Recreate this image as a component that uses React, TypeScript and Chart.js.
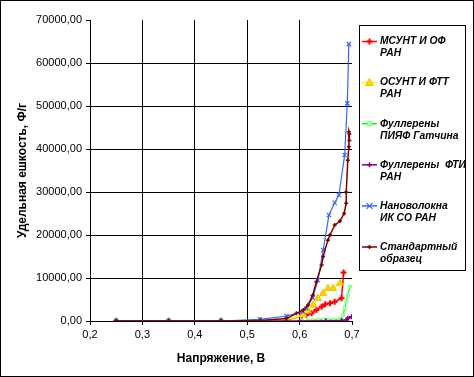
import React, { useEffect, useRef } from 'react';
import { Chart, registerables } from 'chart.js';

Chart.register(...registerables);

// ---- data ----
const seriesNames = [
  'МСУНТ И ОФ\nРАН',
  'ОСУНТ И ФТТ\nРАН',
  'Фуллерены\nПИЯФ Гатчина',
  'Фуллерены  ФТИ\nРАН',
  'Нановолокна\nИК СО РАН',
  'Стандартный\nобразец',
];

const xMsunt = [0.25, 0.35, 0.45, 0.525, 0.575, 0.604, 0.613, 0.623, 0.632, 0.642, 0.649, 0.658, 0.667, 0.68, 0.684];
const yMsunt = [0, 0, 0, 0, 200, 1230, 1400, 1790, 2560, 3330, 3880, 4120, 4490, 5280, 11300];

const xOsunt = [0.25, 0.35, 0.45, 0.525, 0.575, 0.607, 0.616, 0.626, 0.635, 0.645, 0.654, 0.664, 0.677];
const yOsunt = [0, 0, 0, 0, 300, 1400, 2330, 3720, 5280, 6440, 7600, 7600, 8770];

const xPiyaf = [0.605, 0.615, 0.625, 0.635, 0.645, 0.655, 0.665, 0.675, 0.68, 0.683, 0.686, 0.689, 0.692, 0.696];
const yPiyaf = [100, 150, 200, 250, 300, 300, 350, 400, 600, 1400, 3000, 4500, 6000, 8000];

const xFti = [0.25, 0.35, 0.45, 0.525, 0.575, 0.6, 0.65, 0.68, 0.69, 0.692, 0.699];
const yFti = [0, 0, 0, 0, 0, 0, 50, 100, 300, 630, 1000];

const xNano = [0.25, 0.35, 0.45, 0.524, 0.575, 0.606, 0.613, 0.625, 0.635, 0.645, 0.656, 0.667, 0.675, 0.686, 0.691, 0.694];
const yNano = [0, 0, 0, 400, 1160, 2160, 2950, 5420, 9530, 16500, 24650, 27500, 29300, 38600, 50600, 64400];

const xStd = [0.25, 0.35, 0.45, 0.525, 0.575, 0.594, 0.607, 0.616, 0.625, 0.632, 0.642, 0.645, 0.654, 0.658, 0.667, 0.677, 0.685, 0.689, 0.689, 0.692, 0.694, 0.694, 0.695, 0.695];
const yStd = [0, 0, 0, 100, 600, 1790, 2560, 3720, 6000, 9140, 13000, 15000, 18800, 20000, 22300, 23250, 25000, 27400, 30000, 37400, 40500, 44000, 43500, 42000];

const seriesX = [xMsunt, xOsunt, xPiyaf, xFti, xNano, xStd];
const seriesY = [yMsunt, yOsunt, yPiyaf, yFti, yNano, yStd];

const xMin = 0.2;
const xMax = 0.7;
const xStep = 0.1;
const yMin = 0;
const yMax = 70000;
const yStep = 10000;

const xTitle = 'Напряжение, В';
const yTitle = 'Удельная ешкость, Ф/г';

// ---- styles ----
type Style = { line: string; fill: string; stroke: string; marker: string; r: number; w: number; lw: number };
const styles: Style[] = [
  { line: '#FF0000', fill: '#FF0000', stroke: '#FF0000', marker: 'cross', r: 3, w: 2, lw: 1.5 },
  { line: '#FFFF00', fill: '#FFD700', stroke: '#F0C000', marker: 'triangle', r: 4, w: 1, lw: 1.5 },
  { line: '#00FF00', fill: '#B0FFB0', stroke: '#80FF80', marker: 'rect', r: 2, w: 1, lw: 1.2 },
  { line: '#800080', fill: '#800080', stroke: '#800080', marker: 'cross', r: 2.5, w: 1.5, lw: 1.5 },
  { line: '#3366FF', fill: '#3366FF', stroke: '#3366FF', marker: 'crossRot', r: 3, w: 1.2, lw: 1.2 },
  { line: '#800000', fill: '#800000', stroke: '#800000', marker: 'cross', r: 2, w: 1.5, lw: 1.5 },
];

const FONT = '"Liberation Sans", Arial, sans-serif';

function fmtComma(v: number, d: number) {
  return v.toFixed(d).replace('.', ',');
}

function drawMarker(ctx: CanvasRenderingContext2D, s: Style, x: number, y: number) {
  ctx.save();
  ctx.strokeStyle = s.stroke;
  ctx.fillStyle = s.fill;
  ctx.lineWidth = s.w;
  const r = s.r;
  ctx.beginPath();
  if (s.marker === 'cross') {
    ctx.moveTo(x - r, y); ctx.lineTo(x + r, y);
    ctx.moveTo(x, y - r); ctx.lineTo(x, y + r);
    ctx.stroke();
  } else if (s.marker === 'crossRot') {
    ctx.moveTo(x - r, y - r); ctx.lineTo(x + r, y + r);
    ctx.moveTo(x + r, y - r); ctx.lineTo(x - r, y + r);
    ctx.stroke();
  } else if (s.marker === 'triangle') {
    ctx.moveTo(x, y - r); ctx.lineTo(x + r, y + r * 0.7); ctx.lineTo(x - r, y + r * 0.7); ctx.closePath();
    ctx.fill(); ctx.stroke();
  } else {
    ctx.rect(x - r, y - r, 2 * r, 2 * r);
    ctx.fill(); ctx.stroke();
  }
  ctx.restore();
}

const framePlugin = {
  id: 'frameLegend',
  afterDraw(chart: any) {
    const ctx: CanvasRenderingContext2D = chart.ctx;
    ctx.save();
    ctx.strokeStyle = '#000';
    ctx.lineWidth = 1;
    ctx.strokeRect(0.5, 0.5, chart.width - 1, chart.height - 1);
    // legend box
    const bx = 359, by = 25, bw = 106, bh = 245;
    ctx.strokeRect(bx + 0.5, by + 0.5, bw, bh);
    ctx.font = 'italic bold 10.3px ' + FONT;
    ctx.fillStyle = '#000';
    ctx.textBaseline = 'middle';
    ctx.textAlign = 'left';
    seriesNames.forEach((name, i) => {
      const s = styles[i];
      const y = 41.5 + i * 41.1;
      ctx.strokeStyle = s.line;
      ctx.lineWidth = 1.5;
      ctx.beginPath();
      ctx.moveTo(362, y);
      ctx.lineTo(377, y);
      ctx.stroke();
      drawMarker(ctx, s, 369.5, y);
      ctx.fillStyle = '#000';
      name.split('\n').forEach((ln, j) => {
        ctx.fillText(ln, 380, y + j * 12);
      });
    });
    ctx.restore();
  },
};

export default function App() {
  const ref = useRef<HTMLCanvasElement>(null);
  useEffect(() => {
    document.body.style.margin = '0';
    const datasets = seriesNames.map((name, i) => {
      const s = styles[i];
      return {
        label: name.replace('\n', ' '),
        data: seriesX[i].map((x, k) => ({ x, y: seriesY[i][k] })),
        showLine: true,
        borderColor: s.line,
        backgroundColor: s.fill,
        borderWidth: s.lw,
        pointStyle: s.marker,
        pointRadius: s.r,
        pointBorderWidth: s.w,
        pointBorderColor: s.stroke,
        pointBackgroundColor: s.fill,
        tension: 0,
        order: seriesNames.length - i,
      };
    });
    const chart = new Chart(ref.current as HTMLCanvasElement, {
      type: 'scatter',
      data: { datasets: datasets as any },
      options: {
        responsive: false,
        animation: false,
        devicePixelRatio: 1,
        layout: { padding: { top: 20, right: 122, left: 0, bottom: 0 } },
        plugins: { legend: { display: false }, tooltip: { enabled: false } },
        scales: {
          x: {
            type: 'linear',
            min: xMin,
            max: xMax,
            ticks: {
              stepSize: xStep,
              color: '#000',
              padding: 3,
              font: { family: FONT, size: 11 },
              callback: (v: any) => fmtComma(Number(v), 1),
            },
            grid: {
              color: (c: any) => (c.tick && Math.abs(c.tick.value - xMax) < 1e-6 ? 'rgba(0,0,0,0)' : '#000'),
              tickColor: '#000',
              tickLength: 4,
              lineWidth: 1,
            },
            border: { color: '#000', width: 1 },
            title: {
              display: true,
              text: xTitle,
              color: '#000',
              font: { family: FONT, size: 12, weight: 'bold' },
              padding: { top: 0, bottom: 11 },
            },
            afterFit: (s: any) => { s.height = 56; },
          },
          y: {
            type: 'linear',
            min: yMin,
            max: yMax,
            ticks: {
              stepSize: yStep,
              color: '#000',
              padding: 4,
              font: { family: FONT, size: 11 },
              callback: (v: any) => fmtComma(Number(v), 2),
            },
            grid: {
              color: (c: any) => (c.tick && Math.abs(c.tick.value - yMax) < 1e-6 ? 'rgba(0,0,0,0)' : '#000'),
              tickColor: '#000',
              tickLength: 4,
              lineWidth: 1,
            },
            border: { color: '#000', width: 1 },
            title: {
              display: true,
              text: yTitle,
              color: '#000',
              font: { family: FONT, size: 12, weight: 'bold' },
              padding: { top: 15, bottom: 0 },
            },
            afterFit: (s: any) => { s.width = 90; },
          },
        },
      } as any,
      plugins: [framePlugin],
    });
    return () => chart.destroy();
  }, []);
  return (
    <div style={{ position: 'absolute', left: 0, top: 0, width: 474, height: 377, background: '#fff' }}>
      <canvas ref={ref} width={474} height={377} style={{ display: 'block' }} />
    </div>
  );
}
